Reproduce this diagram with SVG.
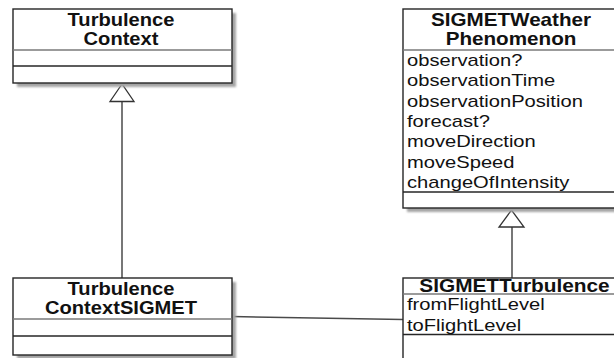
<svg xmlns="http://www.w3.org/2000/svg" width="614" height="358" viewBox="0 0 614 358">
  <defs>
    <filter id="shadowBlur" x="-10%" y="-10%" width="130%" height="130%">
      <feGaussianBlur stdDeviation="1.3"/>
    </filter>
    <style>
      .box { fill: #ffffff; stroke: #262626; stroke-width: 1.4; }
      .shadow { fill: #a4a4a4; filter: url(#shadowBlur); }
      .hdiv { stroke: #7a7a7a; stroke-width: 1.6; }
      .div { stroke: #262626; stroke-width: 1.3; }
      .title { font-family: "Liberation Sans", Arial, sans-serif; font-weight: bold; font-size: 17.5px; fill: #111; text-anchor: middle; }
      .attr { font-family: "Liberation Sans", Arial, sans-serif; font-size: 16px; fill: #111; }
      .edge { stroke: #4a4a4a; stroke-width: 1.5; fill: none; }
      .gen { fill: #ffffff; stroke: #333; stroke-width: 1.3; }
    </style>
  </defs>

  <rect width="614" height="358" fill="#ffffff"/>

  <!-- connectors -->
  <g id="connectors">
    <!-- TurbulenceContextSIGMET generalises TurbulenceContext -->
    <line class="edge" x1="122" y1="101" x2="122" y2="278"/>
    <polygon class="gen" points="122,84 110,101.5 134,101.5"/>
    <!-- SIGMETTurbulence generalises SIGMETWeatherPhenomenon -->
    <line class="edge" x1="512" y1="227" x2="512" y2="278"/>
    <polygon class="gen" points="511.5,210 499,227 524,227"/>
    <!-- association -->
    <line class="edge" x1="232" y1="316.5" x2="403" y2="319.5"/>
  </g>

  <!-- TurbulenceContext -->
  <g id="TurbulenceContext">
    <rect class="shadow" x="17" y="13" width="219" height="74"/>
    <rect class="box" x="13" y="9" width="219" height="74"/>
    <line class="hdiv" x1="13" y1="50" x2="232" y2="50"/>
    <line class="div" x1="13" y1="66" x2="232" y2="66"/>
    <text class="title" transform="translate(121,25.5) scale(1.15,1)">Turbulence</text>
    <text class="title" transform="translate(121,45) scale(1.15,1)">Context</text>
  </g>

  <!-- SIGMETWeatherPhenomenon -->
  <g id="SIGMETWeatherPhenomenon">
    <rect class="shadow" x="407" y="13" width="217" height="199"/>
    <rect class="box" x="403" y="9" width="217" height="199"/>
    <line class="hdiv" x1="403" y1="50" x2="620" y2="50"/>
    <line class="div" x1="403" y1="192" x2="620" y2="192"/>
    <text class="title" transform="translate(511,25.5) scale(1.18,1)">SIGMETWeather</text>
    <text class="title" transform="translate(511,45) scale(1.18,1)">Phenomenon</text>
    <text class="attr" transform="translate(407,66) scale(1.26,1)">observation?</text>
    <text class="attr" transform="translate(407,86.3) scale(1.26,1)">observationTime</text>
    <text class="attr" transform="translate(407,106.6) scale(1.26,1)">observationPosition</text>
    <text class="attr" transform="translate(407,126.9) scale(1.26,1)">forecast?</text>
    <text class="attr" transform="translate(407,147.2) scale(1.26,1)">moveDirection</text>
    <text class="attr" transform="translate(407,167.5) scale(1.26,1)">moveSpeed</text>
    <text class="attr" transform="translate(407,187.8) scale(1.26,1)">changeOfIntensity</text>
  </g>

  <!-- TurbulenceContextSIGMET -->
  <g id="TurbulenceContextSIGMET">
    <rect class="shadow" x="17" y="282" width="219" height="77"/>
    <rect class="box" x="13" y="278" width="219" height="77"/>
    <line class="hdiv" x1="13" y1="319" x2="232" y2="319"/>
    <line class="div" x1="13" y1="336" x2="232" y2="336"/>
    <text class="title" transform="translate(121,294.5) scale(1.15,1)">Turbulence</text>
    <text class="title" transform="translate(121,314) scale(1.15,1)">ContextSIGMET</text>
  </g>

  <!-- SIGMETTurbulence -->
  <g id="SIGMETTurbulence">
    <rect class="box" x="403" y="278" width="222" height="95"/>
    <line class="hdiv" x1="403" y1="294" x2="625" y2="294"/>
    <line class="div" x1="403" y1="334.5" x2="625" y2="334.5"/>
    <text class="title" transform="translate(514.5,291.5) scale(1.19,1)">SIGMETTurbulence</text>
    <text class="attr" transform="translate(407,310.3) scale(1.26,1)">fromFlightLevel</text>
    <text class="attr" transform="translate(407,330.6) scale(1.26,1)">toFlightLevel</text>
  </g>
</svg>
